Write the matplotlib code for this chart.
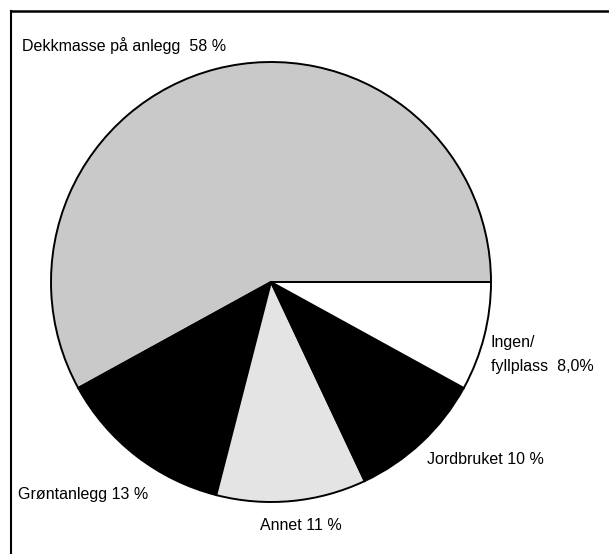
import matplotlib
matplotlib.use("Agg")
import matplotlib.pyplot as plt
from matplotlib.lines import Line2D
from matplotlib import font_manager

# Andel per anvendelse (prosent)
kategorier = ["Dekkmasse på anlegg", "Grøntanlegg", "Annet", "Jordbruket", "Ingen/\nfyllplass"]
andel = [58, 13, 11, 10, 8]
farger = ["#c9c9c9", "#000000", "#e4e4e4", "#000000", "#ffffff"]

navn = {f.name for f in font_manager.fontManager.ttflist}
familie = "Liberation Sans Narrow" if "Liberation Sans Narrow" in navn else "Liberation Sans"
storrelse = 13.5 if familie == "Liberation Sans Narrow" else 11.5

W, H = 609, 554
fig = plt.figure(figsize=(W / 100, H / 100), dpi=100)
ax = fig.add_axes([0, 0, 1, 1])

# Kaken, sentrum og radius i piksler
ax.pie(andel, colors=farger, startangle=0, counterclock=True,
       center=(271, H - 282), radius=220, frame=True,
       wedgeprops=dict(edgecolor="black", linewidth=1.4))
ax.set_xlim(0, W)
ax.set_ylim(0, H)
ax.set_aspect("equal")
ax.axis("off")

fnt = dict(family=familie, fontsize=storrelse, color="black", va="center", ha="left")
ax.text(22, H - 46, f"{kategorier[0]}  {andel[0]} %", **fnt)
ax.text(491, H - 343, "Ingen/", **fnt)
ax.text(491, H - 367, f"fyllplass  {andel[4]:.1f}%".replace(".", ","), **fnt)
ax.text(427, H - 460, f"{kategorier[3]} {andel[3]} %", **fnt)
ax.text(18, H - 495, f"{kategorier[1]} {andel[1]} %", **fnt)
ax.text(260, H - 525, f"{kategorier[2]} {andel[2]} %", **fnt)

# Ramme: venstre og øvre kant
ax.add_line(Line2D([11, 11], [0, H - 11], color="black", linewidth=1.5))
ax.add_line(Line2D([11, W], [H - 11, H - 11], color="black", linewidth=1.8))

fig.savefig("out.png", dpi=100)
